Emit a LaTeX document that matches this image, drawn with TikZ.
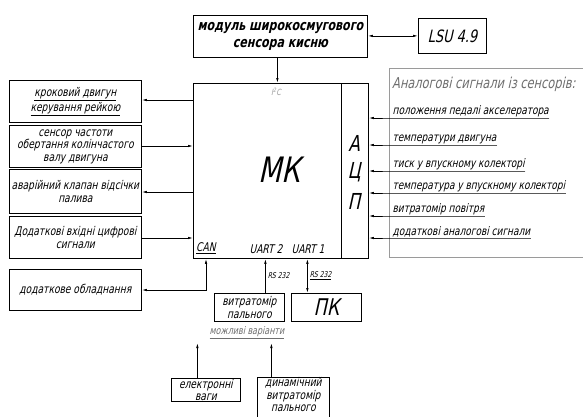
\documentclass[tikz,border=0pt]{standalone}
\usepackage{fontspec}
\setmainfont{DejaVu Sans}[FakeSlant=0.22, FakeStretch=0.76]
\usetikzlibrary{arrows.meta}
\definecolor{lgray}{HTML}{9A9A9A}
\definecolor{mgray}{HTML}{6E6E6E}
\tikzset{
  box/.style={draw, line width=0.8pt, inner sep=0pt, align=center, anchor=north west},
  arr/.style={-{Latex[length=5pt,width=2.4pt]}, line width=0.7pt},
  darr/.style={{Latex[length=5pt,width=2.4pt]}-{Latex[length=5pt,width=2.4pt]}, line width=0.7pt},
  lbl/.style={inner sep=0.5pt, anchor=south west, font=\fontsize{11.8}{13}\selectfont},
  small/.style={font=\fontsize{12}{12.5}\selectfont},
}
\begin{document}
\begin{tikzpicture}[x=1pt,y=-1pt]
\useasboundingbox (0,0) rectangle (583,416);
\fill[white] (0,0) rectangle (583,416);

% top
\node[box, minimum width=174, minimum height=42, font=\bfseries\fontsize{14.5}{17}\selectfont] (mod) at (193,15) {модуль широкосмугового\\сенсора кисню};
\node[box, minimum width=68, minimum height=35, font=\fontsize{17}{19}\selectfont] (lsu) at (418,18) {LSU 4.9};
\draw[darr] (mod.east |- lsu.west) -- (lsu.west);

% MK
\node[box, minimum width=175, minimum height=175] (mk) at (193,83) {};
\coordinate (adcx) at (341,83);
\draw[line width=0.8pt] (adcx) -- (adcx |- mk.south);
\node[font=\fontsize{35}{37}\selectfont] (mktext) at (279,170) {МК};
\node[font=\fontsize{22}{24}\selectfont] (adcA) at (354,143) {А};
\node[font=\fontsize{22}{24}\selectfont] (adcC) at (354,172) {Ц};
\node[font=\fontsize{22}{24}\selectfont] (adcP) at (354,201) {П};
\node[text=lgray, font=\fontsize{8.5}{9}\selectfont, inner sep=0pt] (i2c) at (276,92) {I\textsuperscript{2}C};
\node[font=\fontsize{12}{13}\selectfont, inner sep=1pt, anchor=south west] (can) at (195,255) {\underline{CAN}};
\node[font=\fontsize{12}{13}\selectfont, inner sep=1pt, anchor=south] (u2) at (266,255) {UART 2};
\node[font=\fontsize{12}{13}\selectfont, inner sep=1pt, anchor=south] (u1) at (308,255) {UART 1};
\draw[arr] ([xshift=-3]mod.south) -- ([xshift=-3]mod.south |- mk.north);

% left boxes
\node[box, minimum width=132, minimum height=42, small] (b1) at (9,80) {\underline{кроковий двигун}\\\underline{керування рейкою}};
\node[box, minimum width=132, minimum height=42, small] (b2) at (9,125) {сенсор частоти\\обертання колінчастого\\валу двигуна};
\node[box, minimum width=132, minimum height=44, small] (b3) at (9,169) {аварійний клапан відсічки\\палива};
\node[box, minimum width=132, minimum height=42, small] (b4) at (9,216) {Додаткові вхідні цифрові\\сигнали};
\node[box, minimum width=132, minimum height=41, small] (b5) at (9,269) {додаткове обладнання};

\draw[arr] (mk.west |- 0,100) -- (b1.east |- 0,100);
\draw[arr] (b2.east |- 0,146) -- (mk.west |- 0,146);
\draw[arr] (mk.west |- 0,192) -- (b3.east |- 0,192);
\draw[arr] (b4.east |- 0,238) -- (mk.west |- 0,238);
\coordinate (canc) at (206,290);
\draw[darr] (canc |- mk.south) -- (canc) -- (b5.east |- canc);

% analog box
\draw[lgray, line width=0.6pt] (590,68) -- (389,68) -- (389,257) -- (590,257);
\node[text=mgray, anchor=west, inner sep=0pt, font=\fontsize{15}{17}\selectfont] (atitle) at (392,84) {Аналогові сигнали із сенсорів:};
\node[lbl] (a1) at (392,118) {положення педалі акселератора};
\node[lbl] (a2) at (392,145) {температури двигуна};
\node[lbl] (a3) at (392,171) {тиск у впускному колекторі};
\node[lbl] (a4) at (392,193) {температура у впускному колекторі};
\node[lbl] (a5) at (392,216) {витратомір повітря};
\node[lbl] (a6) at (392,238) {додаткові аналогові сигнали};
\foreach \n in {a1,a2,a3,a4,a5,a6}{
  \draw[arr] (\n.south east) -- (\n.south west) -- (\n.south west -| mk.east);
}

% bottom
\node[box, minimum width=70, minimum height=28, small] (vit) at (214,293) {витратомір\\пального};
\node[box, minimum width=70, minimum height=28, font=\fontsize{23}{24}\selectfont] (pc) at (291,293) {ПК};
\draw[arr] ([xshift=16]vit.north) -- ([xshift=16]vit.north |- mk.south) node[pos=0.5, right, inner sep=2pt, font=\fontsize{8}{9}\selectfont] (rs2) {RS 232};
\draw[darr] ([xshift=-19]pc.north) -- ([xshift=-19]pc.north |- mk.south) node[pos=0.5, right, inner sep=2pt, font=\fontsize{8}{9}\selectfont] (rs1) {\underline{RS 232}};
\node[text=mgray, font=\fontsize{10.5}{11}\selectfont, inner sep=0pt] (var) at (247,333) {\underline{можливі варіанти}};

\node[box, minimum width=69, minimum height=23, small] (ev) at (171,378) {електронні\\ваги};
\node[box, minimum width=72, minimum height=50, small] (dv) at (257,377) {динамічний\\витратомір\\пального\\[6pt]};
\draw[arr] ([xshift=-8.5]ev.north) -- ([xshift=-8.5]ev.north |- 0,343);
\draw[arr] ([xshift=-22]dv.north) -- ([xshift=-22]dv.north |- 0,343);
\end{tikzpicture}
\end{document}
